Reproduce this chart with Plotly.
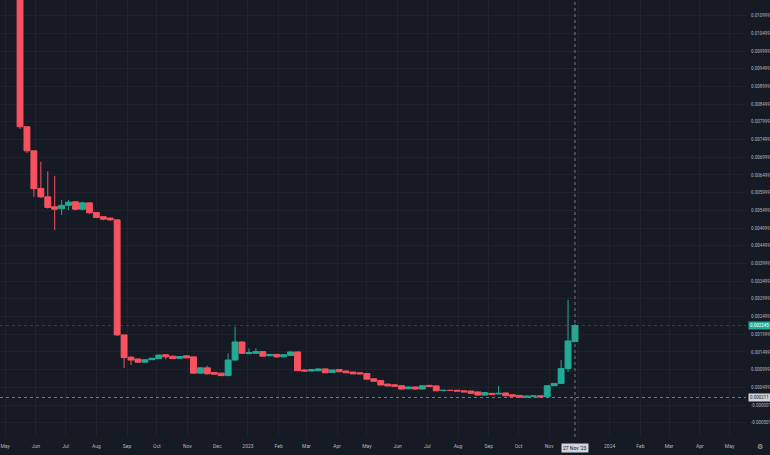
import pandas as pd
import plotly.graph_objects as go

# ---- data (weekly candles) ----
start_week = "2022-05-16"
n_weeks = 81
dates = pd.date_range(start_week, periods=n_weeks, freq="7D")

opens = [0.01200, 0.00786, 0.00718, 0.00612, 0.00588, 0.00560, 0.005545, 0.00564, 0.00574, 0.00553,
         0.00571, 0.00544, 0.00532, 0.00528, 0.00523, 0.00198, 0.00135, 0.00130, 0.00121, 0.00128,
         0.00131, 0.00142, 0.00138, 0.00132, 0.00139, 0.00136, 0.00090, 0.00105, 0.00092, 0.00090,
         0.00083, 0.00127, 0.00178, 0.00145, 0.00146, 0.00151, 0.00139, 0.00143, 0.00136, 0.00140,
         0.00150, 0.00099, 0.00096, 0.00097, 0.00102, 0.00092, 0.00100, 0.00096, 0.00093, 0.00091,
         0.00089, 0.00074, 0.00069, 0.00059, 0.00057, 0.000545, 0.00046, 0.00051, 0.00045, 0.000555,
         0.00054, 0.00041, 0.000415, 0.000415, 0.00040, 0.000395, 0.00037, 0.00028, 0.00033, 0.00031,
         0.00034, 0.00029, 0.00027, 0.00022, 0.000245, 0.00026, 0.000235, 0.000545, 0.00061, 0.00103,
         0.00179]
highs = [0.01250, 0.00786, 0.00718, 0.00687, 0.00660, 0.00647, 0.00579, 0.00579, 0.00576, 0.00574,
         0.00572, 0.00545, 0.00533, 0.00529, 0.00524, 0.00198, 0.00138, 0.00131, 0.00129, 0.00133,
         0.00142, 0.00143, 0.00139, 0.00138, 0.00140, 0.00137, 0.00106, 0.00111, 0.00093, 0.00091,
         0.00146, 0.00221, 0.00180, 0.00160, 0.00160, 0.00152, 0.00144, 0.00144, 0.00143, 0.00151,
         0.00151, 0.00100, 0.00101, 0.00103, 0.00103, 0.00100, 0.00101, 0.00097, 0.00094, 0.00092,
         0.00090, 0.00075, 0.00070, 0.00060, 0.00058, 0.00055, 0.00052, 0.00052, 0.00056, 0.00056,
         0.00055, 0.00042, 0.00042, 0.00042, 0.00041, 0.00040, 0.00038, 0.00036, 0.00034, 0.00054,
         0.00035, 0.00030, 0.00028, 0.00026, 0.00026, 0.00027, 0.00056, 0.00062, 0.00127, 0.00297,
         0.00229]
lows = [0.00780, 0.00712, 0.00588, 0.00585, 0.00555, 0.00494, 0.00537, 0.00551, 0.00550, 0.00550,
        0.00540, 0.00528, 0.00522, 0.00520, 0.00195, 0.00105, 0.00113, 0.00119, 0.00119, 0.00127,
        0.00130, 0.00129, 0.00130, 0.00131, 0.00132, 0.00089, 0.00089, 0.00086, 0.00086, 0.00082,
        0.00082, 0.00126, 0.00145, 0.00144, 0.00145, 0.00137, 0.00138, 0.00133, 0.00135, 0.00139,
        0.00096, 0.00095, 0.00095, 0.00096, 0.00090, 0.00091, 0.00093, 0.00090, 0.00087, 0.00087,
        0.00072, 0.00066, 0.00055, 0.00053, 0.00052, 0.00044, 0.00045, 0.00044, 0.00044, 0.00051,
        0.00039, 0.00040, 0.00040, 0.00039, 0.00036, 0.00032, 0.00027, 0.00027, 0.00029, 0.00030,
        0.00025, 0.00024, 0.00021, 0.00021, 0.00024, 0.00022, 0.00023, 0.00054, 0.00060, 0.00094,
        0.00178]
closes = [0.00786, 0.00718, 0.00611, 0.00588, 0.00558, 0.00553, 0.00564, 0.00573, 0.00553, 0.00571,
          0.00543, 0.00530, 0.00525, 0.00523, 0.00198, 0.00134, 0.00127, 0.00121, 0.00128, 0.00132,
          0.00141, 0.00136, 0.00131, 0.00137, 0.00133, 0.00090, 0.00105, 0.00088, 0.00087, 0.00083,
          0.00127, 0.00178, 0.00146, 0.00148, 0.00151, 0.00138, 0.00143, 0.00136, 0.00142, 0.00150,
          0.00097, 0.00096, 0.00100, 0.00102, 0.00091, 0.00099, 0.00094, 0.00091, 0.00088, 0.00088,
          0.00073, 0.00067, 0.000565, 0.00054, 0.00053, 0.00045, 0.00051, 0.00045, 0.000545, 0.00052,
          0.00040, 0.000415, 0.00041, 0.000395, 0.00037, 0.00033, 0.00028, 0.00035, 0.00030, 0.00033,
          0.00026, 0.000245, 0.00022, 0.00025, 0.000255, 0.000225, 0.000545, 0.00061, 0.00103, 0.00181,
          0.002245]

# axis ticks
y_tick_vals = [-0.001001 + 0.0005 * k for k in range(25)]
y_tick_text = ["%.6f" % v for v in y_tick_vals]
x_tick_vals = pd.date_range("2022-05-01", "2024-05-01", freq="MS")
x_tick_text = [d.strftime("%Y") if d.month == 1 else d.strftime("%b") for d in x_tick_vals]

last_price = closes[-1]
last_price_text = "0.002245"
cross_date = "2023-11-27"
cross_date_text = "27 Nov '23"
cross_price = 0.000211
cross_price_text = "0.000211"

BG = "#161a25"
GRID = "#1e222d"
UP = "#22ab94"
DOWN = "#f7525f"
TXT = "#b2b5be"

fig = go.Figure(go.Candlestick(
    x=dates, open=opens, high=highs, low=lows, close=closes,
    increasing=dict(line=dict(color=UP, width=1), fillcolor=UP),
    decreasing=dict(line=dict(color=DOWN, width=1), fillcolor=DOWN),
    whiskerwidth=0, hoverinfo="skip", showlegend=False,
))

fig.update_layout(
    width=770, height=455,
    margin=dict(l=0, r=24, t=0, b=18, autoexpand=False),
    paper_bgcolor=BG, plot_bgcolor=BG,
    boxgap=0.15, boxgroupgap=0,
    font=dict(family="Roboto, Arial, sans-serif", size=5, color=TXT),
    xaxis=dict(
        range=["2022-04-25 19:00", "2024-05-17 14:00"],
        rangeslider=dict(visible=False),
        tickvals=x_tick_vals, ticktext=x_tick_text,
        showgrid=True, gridcolor=GRID, gridwidth=1,
        zeroline=False, showline=False, ticks="",
        tickfont=dict(size=5, color=TXT), ticklabelstandoff=5,
        automargin=False,
    ),
    yaxis=dict(
        range=[-0.000904, 0.011441],
        side="right",
        tickvals=y_tick_vals, ticktext=y_tick_text,
        showgrid=True, gridcolor=GRID, gridwidth=1,
        zeroline=False, showline=False, ticks="",
        tickfont=dict(size=4.5, color=TXT), ticklabelstandoff=4,
        automargin=False,
    ),
    shapes=[
        dict(type="line", xref="x", yref="paper", x0=cross_date, x1=cross_date, y0=0, y1=1,
             line=dict(color="#787b86", width=1, dash="dot")),
        dict(type="line", xref="paper", yref="y", x0=0, x1=1, y0=cross_price, y1=cross_price,
             line=dict(color="#787b86", width=1, dash="dot")),
        dict(type="line", xref="paper", yref="y", x0=0, x1=1, y0=last_price, y1=last_price,
             line=dict(color="rgba(34,171,148,0.35)", width=1, dash="dot")),
    ],
    annotations=[
        dict(xref="paper", yref="y", x=1, y=last_price, xanchor="left", xshift=2,
             text=last_price_text, showarrow=False, bgcolor=UP, borderpad=1,
             font=dict(size=4.5, color="#ffffff")),
        dict(xref="paper", yref="y", x=1, y=cross_price, xanchor="left", xshift=2,
             text=cross_price_text, showarrow=False, bgcolor="#d1d4dc", borderpad=1,
             font=dict(size=4.5, color="#131722")),
        dict(xref="x", yref="paper", x=cross_date, y=0, yanchor="top", yshift=-6,
             text=cross_date_text, showarrow=False, bgcolor="#d1d4dc", borderpad=1,
             font=dict(size=5, color="#131722")),
        dict(xref="paper", yref="paper", x=1, y=0, xanchor="left", yanchor="top",
             xshift=9, yshift=-4, text="⚙", showarrow=False,
             font=dict(size=7, color=TXT, family="DejaVu Sans")),
    ],
)

fig.write_html(
    "out.html",
    config={"displayModeBar": False},
    post_script="document.body.style.margin='0';document.body.style.overflow='hidden';"
                "document.body.style.background='" + BG + "';",
)
